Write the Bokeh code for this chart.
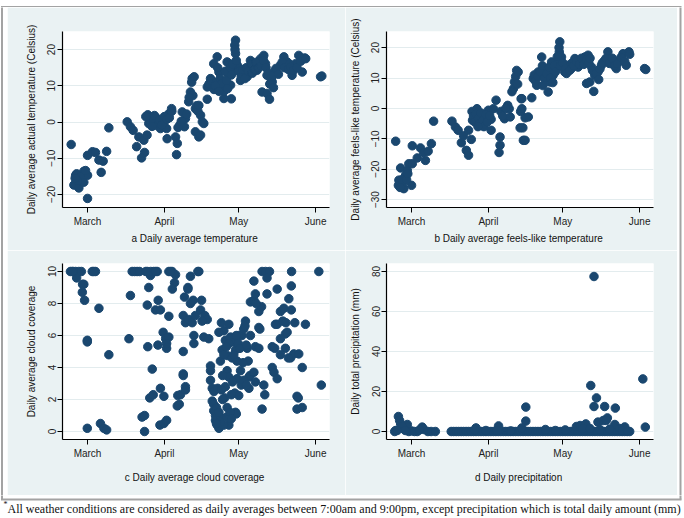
from bokeh.plotting import figure
from bokeh.layouts import row, column
from bokeh.models import Range1d, FixedTicker
from bokeh.embed import file_html
from bokeh.resources import INLINE
from bokeh.core.properties import value

# ---------------- data (x = days since 1 March) ----------------
month_days = [0, 31, 61, 92]
month_labels = ["March", "April", "May", "June"]

days_a = [-6.6, -4.8, -5.5, -3.5, -1.5, -2.1, 0, 0, 0, 2, 3.2, 4.6, 6.3, 5.5, 7.7, 8.6,
          -4.4, -2.8, -1.5, -0.8, -4, -5,
          16, 17.3, 18.4, 20.7, 19.8, 22.7, 24, 23, 21.8,
          24.3, 26, 28, 24.7, 27.4, 29.4, 30.8, 31.9, 32.1, 32.8, 33.9, 35.5, 36.2, 35.9, 37.2, 38.2,
          39.5, 39.1, 40.8, 42.2, 41.5, 43.5, 43.5, 44.9,
          25, 25.5, 26.5, 27, 28.5, 29, 30, 31, 32, 33, 34, 26, 23.5, 36.5, 37.8, 40, 42.5, 42, 43, 44,
          44.5, 41,
          44.9, 45.6, 46.3, 46.9, 45.6, 48.3, 48.3, 49.6, 50.9, 52.3, 53, 54.3, 55, 56.3, 57, 57.7, 59,
          59.7, 59.7, 59.4, 60.4, 61.7, 63, 64.4, 65.7, 67.1, 68.4, 69.8, 71.1, 71.8, 70.4, 72.4, 73.4,
          72.4, 74.5, 75.8, 77.8, 79.2, 80.5, 82.5, 83.9, 85.2, 86.6, 87.6, 94,
          49, 50, 51, 52, 52.5, 53.5, 54, 55.5, 56, 57.5, 58, 58.5, 59.5, 60, 61, 62, 62.5, 63.5, 64, 65,
          66, 66.5, 67.5, 68, 69, 70, 71, 72, 73, 74, 75, 76, 77, 78.5, 79.5, 81, 81.5, 82, 83, 84.5, 86,
          88, 94.5, 73.5, 75, 55, 51.5, 53, 56.5, 58]
temp_a = [-6.2, -14.7, -17.4, -18.2, -13.6, -16.5, -14.7, -21.1, -9.2, -8.2, -8.4, -10.5, -10.8, -13.9,
          -8.1, -1.6,
          -14.3, -15.2, -16.6, -13.4, -16.2, -15.5,
          0.05, -1.3, -2.3, -4.1, -6.8, -5.0, -3.6, -8.4, -9.9,
          2.0, 1.4, 1.0, -0.4, -0.9, -1.8, 0.05, -1.8, -4.6, 2.3, 3.7, -4.1, -5.9, -9.0, -0.9, 2.8,
          1.0, -1.3, 5.6, 12.0, 8.3, 3.7, -2.7, -4.1,
          0.8, -0.2, 0.3, 1.8, -0.3, 0.5, -0.8, 1.5, 0.8, 1.2, 3.0, -1.2, 1.5, -1.5, 0.2, 2.2, 7.3, 11, 12.5,
          4.5, 3, 6.8,
          4.6, 1.9, 0.05, -0.4, -3.6, 6.3, 9.7, 12.0, 16.1, 18.0, 13.8, 9.2, 6.5, 16.6, 12.9, 10.2, 14.3,
          18.9, 22.6, 21.2, 15.7, 11.5, 13.8, 12.5, 17.0, 15.7, 14.3, 17.5, 18.4, 16.1, 8.3, 7.9, 6.3,
          12.9, 11.1, 14.3, 15.7, 18.0, 16.6, 12.9, 16.1, 18.4, 13.8, 17.7, 12.5,
          10.5, 11.5, 9, 11, 15, 12, 10.5, 14, 11.5, 15, 13, 16, 20, 17, 14, 12.5, 14.5, 12, 15, 14,
          16, 13.5, 14.5, 16.5, 15, 15.5, 17, 15, 13.5, 12, 13, 14.8, 13.2, 16.5, 15, 14.5, 16, 15.2,
          14.2, 15, 16.8, 17.5, 12.7, 10.5, 9.5, 8.5, 10, 8.5, 9.2, 6.4]

days_b = [-6.4, -4.4, -5.3, -3.1, -5.1, -2.4, -1.7, -1.1, 0.3, 0, 0.3, 2.3, 3.6, 4.9, 6.7, 5.6, 8, 8.9,
          -4, -3.5, -2, -4.6, -1.5,
          16.3, 17.7, 18.8, 21, 20.1, 23, 24.1, 22.1, 23,
          24.4, 26.4, 24.6, 27.7, 28.4, 29.7, 31, 32.1, 32.1, 33, 34.1, 35.7, 35.7, 35.3, 37.5, 38.8,
          39.8, 39.4, 41.1, 42.4, 41.5, 44.2, 43.8, 45.1,
          25, 25.5, 26, 27, 27.5, 28, 28.8, 29.2, 30, 30.5, 31.5, 26.8, 36, 36.8, 38, 40.5, 42, 43, 42.8, 44,
          44.5, 44.5, 45.8, 47.1, 44.9, 45.8, 48.5, 49.1, 50.5, 51.1, 52.5, 53.8, 55.1, 55.8, 56.5, 57.1,
          58.5, 59.6, 59.8, 59.6, 60.5, 61.8, 63.2, 64.5, 65.9, 67.2, 68.6, 69.9, 71.2, 72.6, 70.6, 71.9,
          73.5, 73.9, 75.2, 76.6, 77.9, 79.2, 80.6, 82.6, 83.9, 85.3, 86.6, 87.7, 94,
          49.5, 50, 51, 52, 52.8, 53.5, 54.5, 55.5, 56, 57.5, 58, 58.8, 59.5, 60, 61, 62, 62.5, 63.8, 64.8,
          65.5, 66.5, 67.8, 68.5, 69.5, 70.5, 71.5, 72, 73, 74.5, 75.5, 76, 77, 78.5, 79.8, 81, 81.8, 83,
          84.5, 86, 88, 94.5, 57, 53]
feels_b = [-10.8, -19.6, -25.3, -26.4, -23.6, -22.0, -20.4, -18.2, -18.2, -25.3, -12.3, -16.3, -13.0,
           -14.5, -14.1, -17.1, -11.6, -4.2,
           -23.5, -24.5, -23.5, -26, -21.5,
           -4.2, -6.1, -7.2, -9.0, -11.3, -7.2, -10.2, -13.8, -15.4,
           -1.0, -0.1, -3.9, -2.5, -5.6, -3.4, -0.6, -3.6, -7.2, -0.1, 2.7, -9.4, -12.1, -14.5, -3.4, 1.0,
           -2.8, -0.1, 6.5, 12.5, 8.7, 3.2, -6.4, -10.5,
           -2.5, -4.5, -1.8, -3.2, -5, -1.5, -4, -6, -2, -4.5, -2.3, -6, -1, -2.5, 0, 5.5, 10.5, 12, 8, -1,
           3.2, -0.1, -3.1, -2.8, -6.4, -10.5, 3.5, 9.8, 7.6, 12.0, 16.9, 12.5, 5.4, 8.7, 15.3, 10.9,
           13.1, 15.8, 21.9, 18.6, 16.9, 12.0, 14.2, 13.1, 16.4, 13.6, 15.3, 16.9, 17.5, 13.6, 8.2, 8.7,
           5.6, 10.9, 12.0, 14.2, 15.8, 18.6, 15.8, 13.1, 15.8, 18.0, 14.2, 18.6, 13.1,
           11, 9, 10.5, 12, 14, 10, 11.5, 13.5, 10, 14, 12, 17, 20, 14, 15, 13, 11.5, 12.5, 15,
           14, 15.5, 14.5, 16.5, 14.5, 16, 15, 16.5, 12.5, 11.5, 9.5, 13, 15, 16.5, 14.8, 16.5, 14, 14.7,
           16.8, 15.5, 17.8, 12.8, 8.5, 7.5]

days_c = [-6.9, -4.8, -3.5, -4.4, -1.5, -2.1, -1.2, 1.9, 3.2, 4.6, -0.1, -0.1, 8.6, -0.1, 5.2, 6.6, 7.7,
          -5.8, -6.2, -2.5, -2, 2.5,
          17.3, 16.7, 18, 20, 24.1, 25.4, 26.7, 28.1, 24.7, 24.1, 28.5, 27.4, 29.4, 24.3, 26.1, 25.1, 26.5,
          29.4, 30.8, 22, 23, 23, 29.2, 30.8, 31.9, 28.4, 30.5, 31.5, 32.8, 31.9, 31.9, 32.8, 34.1, 35.5,
          35.1, 34.2, 32.8, 38.6, 36.4, 37.5, 36.2, 37, 38.6, 38.6, 39.5, 39.5, 38.6, 39.5, 40.9, 42.2,
          43.5, 42.9, 42.9, 41.5, 40.5, 40.5, 41.5, 42.6, 39.1, 44.5,
          19, 21, 25.5, 27.5, 33.5, 23.5,
          44.9, 46, 45.6, 47.3, 48.3, 46.2, 46.9, 48.9, 49.6, 49.6, 49.6, 50.3, 50.3, 50.9, 50.9, 51.6,
          51.6, 52.3, 53, 53.6, 53.6, 54.3, 55, 55.6, 56.3, 56.3, 57, 57.7, 58.3, 57, 55.6, 55.3, 56.3, 57,
          59, 59.7, 60.3, 60.3, 59.4, 59.7, 60, 61, 61.7, 62.3, 63, 63.7, 63.5, 64.4, 64.8, 65.1, 65.1,
          65.5, 67.1, 67.7, 65.7, 67.7, 69.1, 70.4, 71.1, 71.5, 69.1, 69.5, 69.1, 70.2, 65.7, 67.1, 67.7,
          68, 67.1, 72.4, 70.4, 71.8, 73.4, 72.4, 76.5, 75.8, 76.5, 77.8, 79.2, 78.8, 80, 79.8, 80.5, 77.8,
          74.5, 75.5, 79.8, 77.8, 81.9, 83.2, 85.2, 81, 74.5, 75.2, 76.5, 86.6, 82.2, 82.2, 81.2, 83.6,
          87.9, 82.3, 84.5, 85, 84.5, 86.6, 93.3, 94.3,
          51, 52, 52.5, 53, 54, 54.5, 55, 56, 57.5, 58, 58.5, 59, 60.8, 61.5, 62, 63, 64, 62.7, 64, 58, 55,
          53.5, 52, 57, 56, 61, 60, 54.5, 53, 54]
cloud_c = [10, 10, 10, 9.6, 9.2, 8.7, 8.2, 10, 10, 7.7, 5.7, 5.6, 4.8, 0.2, 0.5, 0.2, 0.1,
           10, 10, 10, 9.2, 10,
           8.5, 5.8, 10, 10, 10, 9.75, 10, 10, 9.0, 7.9, 8.2, 7.6, 7.6, 5.3, 3.9, 2.1, 2.3,
           2.7, 2.2, 0.9, 1.0, 0.0, 0.4, 0.5, 0.7, 5.4, 6.2, 5.8, 5.9, 5.2, 5.5, 10, 10, 9.8,
           9.3, 8.9, 7.2, 5.0, 2.25, 2.3, 1.6, 1.7, 3.6, 3.5, 2.8, 2.6, 7.25, 6.8, 7.0, 6.8,
           7.25, 6.0, 5.5, 9.7, 9.0, 8.9, 8.0, 8.2, 8.4, 10,
           10, 10, 10, 10, 10, 10,
           10, 8.2, 7.6, 7.25, 7.0, 6.9, 5.9, 5.8, 4.1, 3.8, 3.2, 2.7, 1.9, 1.7, 1.3, 1.0,
           0.7, 0.4, 0.2, 0.9, 4.4, 5.1, 6.3, 5.7, 4.75, 3.8, 6.7, 5.9, 4.6, 3.4, 2.8, 2.1, 1.5, 0.4,
           5.6, 5.1, 4.4, 3.3, 2.4, 1.2, 1.1, 2.25, 3.8, 6.0, 6.4, 6.9, 6.6, 5.2, 4.4, 3.4, 2.7,
           3.5, 3.7, 3.1, 6.0, 5.3, 5.2, 1.4, 2.9, 2.3, 6.5, 6.4, 7.5, 7.8, 8.1, 8.2, 8.6,
           8.0, 9.4, 8.6, 10, 10, 10, 9.6, 8.9, 6.7, 6.7, 7.5, 7.7, 6.9, 6.8, 6.1, 6.2, 5.8,
           5.3, 5.2, 5.2, 4.8, 4.6, 4.85, 4.85, 4.6, 4.0, 3.7, 3.3, 4.0, 9.1, 7.6, 8.3, 6.8,
           6.7, 10, 2.2, 2.1, 1.4, 1.5, 10, 2.9,
           2.5, 1.5, 2.7, 1.2, 2.6, 3.5, 4.8, 0.9, 1.2, 2.3, 3.1, 4.8, 5.5, 5.2, 2.9, 3.2, 2.9, 4.3, 5.4, 0.8, 0.4,
           0.6, 0.5, 5.5, 5.3, 6, 6, 2.0, 6.2, 6.8]

days_d = [-6.4, -5.3, -4.4, -3.1, -1.7, -1.1, 0, 2.3, 4.3, 5, 6.6, 7.9, 9.6, -6.8, -4.8, -3.8, -2.5,
          1.2, 3.2, -5.8,
          16, 17, 18, 19, 20, 21, 22, 23, 24, 25, 26, 27, 28, 29, 30, 31, 32, 33, 34, 35, 36, 37, 38, 39,
          40, 41, 42, 43, 44, 45, 46, 47, 48, 49, 50, 51, 52, 53, 54, 55, 56, 57, 58, 59, 60, 61, 62, 63,
          64, 65, 66, 67, 68, 69, 70, 71, 72, 73, 74, 75, 76, 77, 78, 79, 80, 81, 82, 83, 84, 85, 86, 87, 88,
          26, 25.5, 35.1, 34.5, 44.5, 46.1, 46.1, 54, 66.5, 68, 70.3, 69, 72.3, 73.6, 73.6, 74.6, 75.2,
          77.3, 77.9, 79, 78.5, 82.2, 82, 86, 93.3, 94.3, 62, 58, 40, 30, 72, 76, 80, 84, 85, 87]
precip_d = [0.5, 7.5, 3.8, 1.3, 3.5, 0, 0.3, 0, 2.2, 1, 0, 0, 0, 0, 5.5, 2.5, 0.5,
            0, 0.8, 0.5,
            0, 0, 0, 0, 0, 0, 0, 0, 0, 0, 0, 0, 0, 0, 0, 0, 0, 0, 0, 0, 0, 0, 0, 0,
            0, 0, 0, 0, 0, 0, 0, 0, 0, 0, 0, 0, 0, 0, 0, 0, 0, 0, 0, 0, 0, 0, 0, 0,
            0, 0, 0, 0, 0, 0, 0, 0, 0, 0, 0, 0, 0, 0, 0, 0, 0, 0, 0, 0, 0, 0, 0, 0, 0,
            1.8, 0.8, 2.8, 0.5, 1.8, 12.2, 5.2, 1, 2.5, 3, 3.8, 1.5, 23, 77.5, 12.5, 16.8, 4.7,
            5.5, 12.5, 6.8, 5.5, 11.7, 3.5, 2.3, 26.3, 2.2, 0.8, 0.5, 0.3, 0.5, 1.5, 1, 1.2, 1.5, 0.5, 0.3]

ticks_a = [-20, -10, 0, 10, 20]
ticks_b = [-30, -20, -10, 0, 10, 20]
ticks_c = [0, 2, 4, 6, 8, 10]
ticks_d = [0, 20, 40, 60, 80]

footnote = ("All weather conditions are considered as daily averages between 7:00am and 9:00pm, "
            "except precipitation which is total daily amount (mm)")

# ---------------- styling ----------------
BG = "#EAF2F3"
NAVY = "#1A476F"
GRID = "#E3ECEE"
FRAME = "#A3A3A3"
SANS = "Liberation Sans"
X_RANGE = (-10.1, 97.6)


def panel(xs, ys, yrange, yticks, ylabel, caption, w, h, bl, br, bt, bb,
          cap_std, ylab_std):
    p = figure(width=w, height=h, output_backend="svg", toolbar_location=None,
               x_range=Range1d(*X_RANGE), y_range=Range1d(*yrange),
               min_border_left=bl, min_border_right=br,
               min_border_top=bt, min_border_bottom=bb)
    p.border_fill_color = BG
    p.background_fill_color = "white"
    p.outline_line_color = None
    p.scatter(xs, ys, size=8.5, marker="circle", fill_color=NAVY, line_color=NAVY)

    p.xaxis.ticker = FixedTicker(ticks=month_days)
    p.xaxis.major_label_overrides = {d: lab for d, lab in zip(month_days, month_labels)}
    p.yaxis.ticker = FixedTicker(ticks=yticks)
    p.yaxis.major_label_orientation = "vertical"
    p.xaxis.axis_label = caption
    p.yaxis.axis_label = ylabel
    for ax in (p.xaxis, p.yaxis):
        ax.axis_line_color = "#000000"
        ax.axis_line_width = 1.2
        ax.major_tick_line_color = "#000000"
        ax.major_tick_out = 5
        ax.major_tick_in = 0
        ax.minor_tick_line_color = None
        ax.major_label_text_font = SANS
        ax.major_label_text_font_size = "10px"
        ax.major_label_text_color = "#222222"
        ax.axis_label_text_font = SANS
        ax.axis_label_text_font_size = "10px"
        ax.axis_label_text_font_style = "normal"
        ax.axis_label_text_color = "#111111"
    p.xaxis.major_label_standoff = 3
    p.yaxis.major_label_standoff = 2
    p.xaxis.axis_label_standoff = cap_std
    p.yaxis.axis_label_standoff = ylab_std
    p.xgrid.visible = False
    p.ygrid.ticker = FixedTicker(ticks=yticks)
    p.ygrid.grid_line_color = GRID
    p.ygrid.grid_line_width = 1.2
    return p


fa = panel(days_a, temp_a, (-23.6, 25.0), ticks_a,
           "Daily average actual temperature (Celsius)", "a  Daily average temperature",
           338, 243, 55, 16, 24, 43, 3, 8)
fb = panel(days_b, feels_b, (-32.6, 25.3), ticks_b,
           "Daily average feels-like temperature (Celsius)", "b  Daily average feels-like temperature",
           332, 243, 41, 24, 24, 43, 3, 8)
fc = panel(days_c, cloud_c, (-0.5, 10.5), ticks_c,
           "Daily average cloud coverage", "c  Daily average cloud coverage",
           338, 245, 55, 16, 13, 56, 10, 8)
fd = panel(days_d, precip_d, (-4.0, 84.0), ticks_d,
           "Daily total precipitation (mm)", "d  Daily precipitation",
           332, 245, 41, 24, 13, 56, 10, 8)


def strip(w, h, xr, yr):
    s = figure(width=w, height=h, output_backend="svg", toolbar_location=None,
               x_range=Range1d(*xr), y_range=Range1d(*yr),
               x_axis_type=None, y_axis_type=None, min_border=0)
    s.grid.visible = False
    s.outline_line_color = None
    s.background_fill_color = "white"
    s.border_fill_color = "white"
    return s


# outer frame pieces, in page pixel coordinates
L_X, R_X, T_Y, B_Y = 1.5, 680.0, 1.5, 499.0
top = strip(684, 7, (0, 684), (7, 0))
top.segment(x0=[L_X - 1, L_X, R_X], y0=[T_Y, T_Y, T_Y], x1=[R_X + 1, L_X, R_X], y1=[T_Y, 8, 8],
            line_color=FRAME, line_width=2)
left = strip(7, 488, (0, 7), (495, 7))
left.segment(x0=[L_X], y0=[5], x1=[L_X], y1=[497], line_color=FRAME, line_width=2)
right = strip(7, 488, (677, 684), (495, 7))
right.segment(x0=[R_X], y0=[5], x1=[R_X], y1=[497], line_color=FRAME, line_width=2)
ft = strip(684, 23, (0, 684), (518, 495))
ft.segment(x0=[L_X - 1, L_X, R_X], y0=[B_Y, 493, 493], x1=[R_X + 1, L_X, R_X], y1=[B_Y, B_Y, B_Y],
           line_color=FRAME, line_width=2)
ft.text(x=[3], y=[503.5], text=["*"], text_font=value("Liberation Serif"),
        text_font_size="8px", text_baseline="middle", text_color="#111111")
ft.text(x=[7], y=[508], text=[footnote], text_font=value("Liberation Serif"),
        text_font_size="12px", text_baseline="middle", text_color="#111111")

layout = column(top,
                row(left, column(row(fa, fb), row(fc, fd)), right),
                ft)

open("out.html", "w").write(file_html(layout, INLINE))
